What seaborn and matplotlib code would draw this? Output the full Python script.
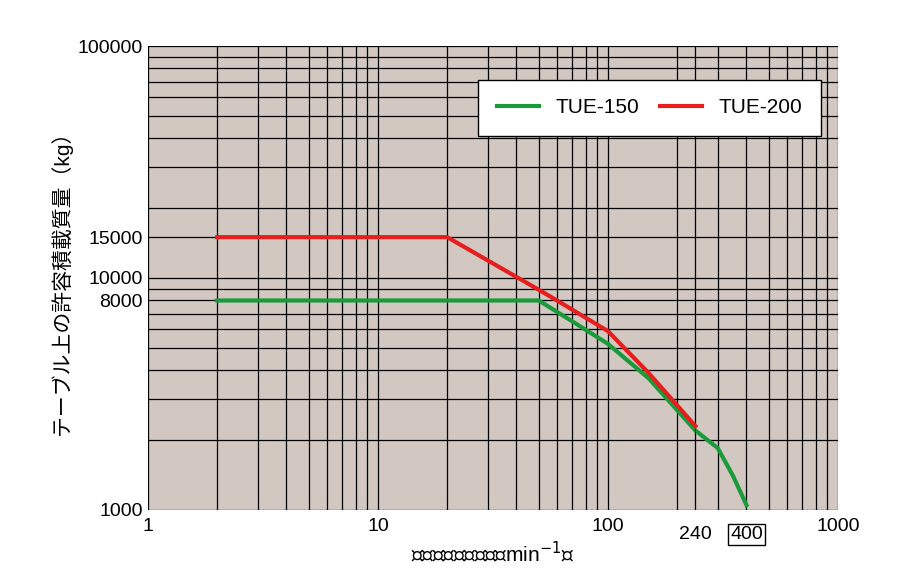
import matplotlib
matplotlib.use("Agg")
import matplotlib.pyplot as plt
import seaborn as sns
import pandas as pd
from matplotlib.ticker import LogLocator, NullFormatter

plt.rcParams["font.family"] = ["Liberation Sans", "Noto Sans CJK JP"]

tue150_x = [2, 50, 70, 100, 150, 240, 300, 350, 400]
tue150_y = [8000, 8000, 6500, 5200, 3700, 2200, 1850, 1400, 1050]
tue200_x = [2, 20, 50, 60, 100, 150, 240]
tue200_y = [15000, 15000, 8900, 8000, 5900, 3900, 2300]

df = pd.concat([
    pd.DataFrame({"x": tue150_x, "y": tue150_y, "s": "TUE-150"}),
    pd.DataFrame({"x": tue200_x, "y": tue200_y, "s": "TUE-200"}),
])

fig = plt.figure(figsize=(9, 5.86), dpi=100)
ax = fig.add_axes([0.1644, 0.1297, 0.7667, 0.7918])
ax.set_facecolor("#d3c8c1")
ax.set_xscale("log"); ax.set_yscale("log")
ax.set_xlim(1, 1000); ax.set_ylim(1000, 100000)
ax.xaxis.set_minor_locator(LogLocator(base=10, subs=range(2, 10)))
ax.yaxis.set_minor_locator(LogLocator(base=10, subs=range(2, 10)))
ax.xaxis.set_minor_formatter(NullFormatter()); ax.yaxis.set_minor_formatter(NullFormatter())
ax.grid(which="both", color="black", lw=0.9)
ax.set_axisbelow(True)

sns.lineplot(data=df, x="x", y="y", hue="s", palette={"TUE-150": "#1a9a3a", "TUE-200": "#e61e1e"},
             lw=3, ax=ax, sort=False, estimator=None)
ax.plot([240, 240], [1000, 2250], color="black", lw=0.8, ls=(0, (1, 1)))

ax.set_xticks([1, 10, 100, 240, 1000])
ax.set_xticklabels(["1", "10", "100", "", "1000"])
ax.set_yticks([1000, 8000, 10000, 15000, 100000])
ax.set_yticklabels(["1000", "8000", "10000", "15000", "100000"])
ax.tick_params(which="both", length=0, labelsize=14)
ax.tick_params(axis="x", pad=6)
ax.text(240, 850, "240", ha="center", va="top", fontsize=14)
ax.text(400, 850, "400", ha="center", va="top", fontsize=14,
        bbox=dict(boxstyle="square,pad=0.1", fc="white", ec="black", lw=1))
for s in ax.spines.values():
    s.set_visible(False)

ax.set_xlabel("テーブル回転速度（min$^{-1}$）", fontsize=15)
ax.set_ylabel("テーブル上の許容積載質量（kg）", fontsize=15)
leg = ax.legend(title=None, loc="upper right", ncol=2, fontsize=15, frameon=True, fancybox=False,
                bbox_to_anchor=(0.99, 0.95), borderpad=0.9, handlelength=2, columnspacing=1)
leg.get_frame().set_edgecolor("black"); leg.get_frame().set_facecolor("white"); leg.get_frame().set_alpha(1)
fig.savefig("out.png", dpi=100)
